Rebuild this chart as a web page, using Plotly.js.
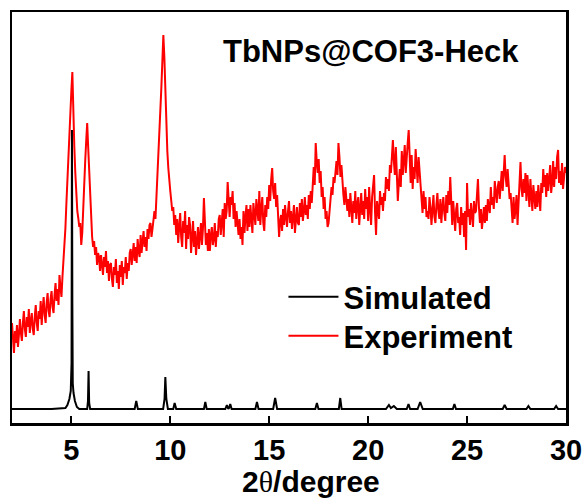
<!DOCTYPE html>
<html>
<head>
<meta charset="utf-8">
<script src="https://cdn.plot.ly/plotly-3.0.1.min.js"></script>
<style>html,body{margin:0;padding:0;background:#fff;}#chart{width:587px;height:500px;}</style>
</head>
<body>
<div id="chart"></div>
<script>
// Experiment pattern: 2theta from 2.00 to 30.00 in 0.05 degree steps (intensity, a.u.)
const expStart = 2.0;
const expStep = 0.05;
const expIntensity = [
  100,84,70,92,80,98,76,88,104,90,82,100,112,94,86,106,96,114,90,102,
  110,94,88,106,118,100,92,112,104,122,98,114,126,108,100,120,130,112,106,124,
  132,116,110,128,140,122,134,118,148,136,126,146,160,175,195,220,245,270,290,312,
  332,351,300,276,250,228,212,205,196,200,178,190,222,246,262,282,300,276,250,228,
  205,186,176,182,168,176,158,170,166,152,168,160,148,166,156,172,150,162,142,158,
  160,144,136,156,148,164,140,152,134,158,146,162,138,156,150,166,144,160,152,170,
  174,158,168,180,162,176,160,184,172,166,188,170,182,192,176,186,172,194,184,198,
  200,186,194,208,212,204,226,236,256,278,302,336,362,388,366,330,300,272,255,240,
  232,222,212,216,198,208,188,204,180,196,210,186,176,202,190,212,174,198,184,206,
  198,170,188,202,176,192,168,184,196,174,186,200,178,194,225,206,178,190,172,194,
  172,188,196,178,184,200,176,192,186,204,208,188,198,214,186,220,204,212,241,214,
  206,226,218,232,204,220,196,212,200,188,204,184,196,178,212,190,206,218,192,214,
  196,218,204,190,220,208,198,224,212,202,232,198,214,226,200,192,218,206,226,214,
  238,222,244,255,232,224,240,216,228,204,186,202,208,192,214,198,218,206,196,212,
  222,200,212,194,208,218,190,206,216,200,198,220,206,224,202,212,226,208,218,204,
  228,214,232,220,244,256,238,280,262,250,264,240,252,226,236,214,226,204,212,196,
  200,214,222,236,228,246,240,256,262,248,280,266,246,258,240,228,218,236,224,212,
  224,206,230,214,200,222,210,232,204,218,226,198,214,230,208,222,204,234,214,226,
  202,236,214,198,226,240,248,210,188,222,214,204,232,218,226,212,230,222,246,234,
  244,232,258,250,266,283,262,248,276,256,222,240,254,236,272,248,262,278,250,270,
  280,293,262,240,268,234,256,244,274,258,240,266,250,238,224,210,232,214,226,206,
  212,204,226,216,198,222,228,206,200,218,230,212,204,224,200,216,226,210,202,228,
  210,232,218,246,226,198,222,210,192,214,220,200,206,188,216,198,210,186,212,173,
  240,206,214,198,220,208,196,222,210,212,230,244,216,200,214,194,204,216,200,218,
  202,224,216,210,236,218,226,214,242,228,220,236,242,224,238,252,232,258,268,246,
  236,254,240,224,230,212,200,226,204,214,228,198,220,246,261,234,226,244,230,250,
  222,248,236,216,244,226,212,238,222,214,232,216,238,224,212,240,230,254,236,248,
  226,250,232,244,258,230,240,262,236,256,244,266,273,240,252,238,260,234,248,256,
  250
];
const expTheta = expIntensity.map((_, i) => +(expStart + i * expStep).toFixed(2));

// Simulated pattern (2theta, intensity)
const simTheta = [
  2.0, 3.0, 4.0, 4.7, 4.8, 4.9, 4.97, 5.01, 5.03, 5.05, 5.07, 5.11, 5.18, 5.28, 5.4,
  5.8, 5.84, 5.87, 5.9, 5.95,
  7.0, 8.2, 8.28, 8.36,
  9.64, 9.71, 9.75, 9.8, 9.88, 10.15, 10.22, 10.3,
  11.0, 11.7, 11.77, 11.84,
  12.78, 12.86, 12.93, 12.97, 13.03, 13.1,
  14.3, 14.38, 14.46,
  15.2, 15.3, 15.4,
  16.5, 17.33, 17.41, 17.49,
  18.0, 18.52, 18.59, 18.66,
  19.5, 20.9, 21.05, 21.15, 21.3, 21.45,
  21.95, 22.04, 22.12, 22.5, 22.63, 22.76,
  23.4, 24.28, 24.36, 24.44,
  25.3, 25.8, 26.8, 26.9, 27.0,
  28.0, 28.1, 28.2, 29.4, 29.5, 29.6, 30.0
];
const simIntensity = [
  14, 14, 14, 15, 18, 24, 32, 60, 293, 120, 40, 30, 22, 16, 14,
  14, 22, 52, 20, 14,
  14, 14, 22, 14,
  14, 24, 46, 24, 14, 14, 20, 14,
  14, 14, 21, 14,
  14, 18, 14, 15, 19, 14,
  14, 21, 14,
  14, 25, 14,
  14, 14, 20, 14,
  14, 14, 25, 14,
  14, 14, 18, 15, 17, 14,
  14, 19, 14, 14, 21, 14,
  14, 14, 19, 14,
  14, 14, 14, 18, 14,
  14, 17, 14, 14, 17, 14, 14
];

const seriesNames = ['Simulated', 'Experiment'];
const xTicks = [5, 10, 15, 20, 25, 30];

const FONT = 'Arial, "Liberation Sans", sans-serif';
const legendFont = {family: FONT, size: 31, color: '#000', weight: 'bold'};

const traces = [
  {
    x: expTheta, y: expIntensity, name: seriesNames[1], type: 'scatter', mode: 'lines',
    legend: 'legend2',
    line: {color: '#ff0000', width: 2}
  },
  {
    x: simTheta, y: simIntensity, name: seriesNames[0], type: 'scatter', mode: 'lines',
    legend: 'legend',
    line: {color: '#000000', width: 2}
  }
];

const layout = {
  width: 587, height: 500,
  margin: {l: 12, r: 21, t: 12, b: 77},
  paper_bgcolor: '#ffffff', plot_bgcolor: '#ffffff',
  showlegend: true,
  legend: {
    x: 0.49, y: 0.372, xanchor: 'left', yanchor: 'top',
    bgcolor: 'rgba(0,0,0,0)', borderwidth: 0, itemwidth: 50, font: legendFont
  },
  legend2: {
    x: 0.49, y: 0.277, xanchor: 'left', yanchor: 'top',
    bgcolor: 'rgba(0,0,0,0)', borderwidth: 0, itemwidth: 50, font: legendFont
  },
  xaxis: {
    range: [2, 30], tickvals: xTicks, ticktext: xTicks.map(String),
    ticks: 'inside', ticklen: 7, tickwidth: 2, tickcolor: '#000',
    showline: true, linewidth: 2.5, linecolor: '#000', mirror: true,
    showgrid: false, zeroline: false,
    tickfont: {family: FONT, size: 29, color: '#000', weight: 'bold'}
  },
  yaxis: {
    range: [0, 411], showticklabels: false, ticks: '',
    showline: true, linewidth: 2.5, linecolor: '#000', mirror: true,
    showgrid: false, zeroline: false
  },
  annotations: [
    {
      text: 'TbNPs@COF3-Heck', xref: 'paper', yref: 'paper', x: 0.648, y: 0.905,
      xanchor: 'center', yanchor: 'middle', showarrow: false,
      font: {family: FONT, size: 31, color: '#000', weight: 'bold'}
    },
    {
      text: '2<span style="font-family:\'Liberation Serif\',serif;font-weight:normal">θ</span>/degree',
      xref: 'paper', yref: 'paper', x: 0.54, y: -0.143,
      xanchor: 'center', yanchor: 'middle', showarrow: false,
      font: {family: FONT, size: 30, color: '#000', weight: 'bold'}
    }
  ]
};

Plotly.newPlot('chart', traces, layout, {displayModeBar: false, staticPlot: true});
</script>
</body>
</html>
